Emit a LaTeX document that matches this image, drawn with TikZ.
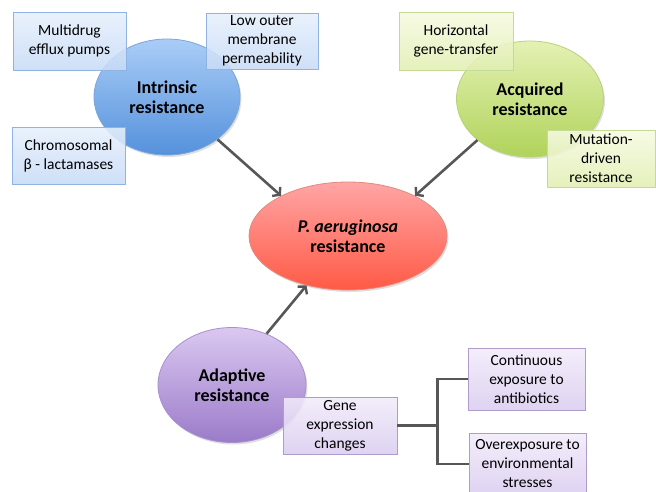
\documentclass[tikz,border=0pt]{standalone}
\usepackage{fontspec}
\setmainfont{Carlito}
\usetikzlibrary{arrows.meta,shapes.geometric,shadows}

\definecolor{blueTop}{HTML}{A9CDF7}
\definecolor{blueBot}{HTML}{5591DC}
\definecolor{blueLine}{HTML}{7AA6DA}
\definecolor{blueBoxTop}{HTML}{E6F0FC}
\definecolor{blueBoxBot}{HTML}{C8DBF6}
\definecolor{blueBoxLine}{HTML}{8FB3E3}
\definecolor{greenTop}{HTML}{E4F1B4}
\definecolor{greenBot}{HTML}{B0D35A}
\definecolor{greenLine}{HTML}{B8D27A}
\definecolor{greenBoxTop}{HTML}{F6FAE2}
\definecolor{greenBoxBot}{HTML}{E1EEB2}
\definecolor{greenBoxLine}{HTML}{C5DA94}
\definecolor{redTop}{HTML}{FFA5A5}
\definecolor{redBot}{HTML}{FF5A45}
\definecolor{redLine}{HTML}{E08A80}
\definecolor{purpleTop}{HTML}{DAC8F1}
\definecolor{purpleBot}{HTML}{9B7BC9}
\definecolor{purpleLine}{HTML}{A890CC}
\definecolor{purpleBoxTop}{HTML}{F2EBFA}
\definecolor{purpleBoxBot}{HTML}{DACDEF}
\definecolor{purpleBoxLine}{HTML}{B09CCC}
\definecolor{arrowGray}{HTML}{575757}

\begin{document}
\begin{tikzpicture}[
    x=1pt, y=-1pt,
    hub/.style={ellipse, draw, line width=0.8pt, align=center,
        font=\fontsize{18}{20}\selectfont\bfseries,
        drop shadow={opacity=0.25, shadow xshift=1.5pt, shadow yshift=-2pt}},
    factor/.style={rectangle, draw, line width=0.8pt, align=center,
        font=\fontsize{15.5}{19}\selectfont, inner sep=1pt,
        fill opacity=0.88, text opacity=1},
    arrow/.style={-{Straight Barb[length=5pt, width=12pt, line width=2.4pt]},
        line width=2.6pt, arrowGray},
    link/.style={line width=2.2pt, arrowGray}
]
\useasboundingbox (0,0) rectangle (656,491);

% Centre
\node[hub, top color=redTop, bottom color=redBot, draw=redLine,
    minimum width=198pt, minimum height=108pt] (pa) at (348,236)
    {\textit{P. aeruginosa}\\resistance};

% Intrinsic
\node[hub, top color=blueTop, bottom color=blueBot, draw=blueLine,
    minimum width=146pt, minimum height=116pt] (intr) at (167,97)
    {Intrinsic\\resistance};
\node[factor, top color=blueBoxTop, bottom color=blueBoxBot, draw=blueBoxLine,
    minimum width=113pt, minimum height=58pt] (mdr) at (69.5,41)
    {Multidrug\\efflux pumps};
\node[factor, top color=blueBoxTop, bottom color=blueBoxBot, draw=blueBoxLine,
    minimum width=112pt, minimum height=56pt] (lom) at (262,41)
    {Low outer\\membrane\\permeability};
\node[factor, top color=blueBoxTop, bottom color=blueBoxBot, draw=blueBoxLine,
    minimum width=113pt, minimum height=57pt] (chr) at (68.5,155.5)
    {Chromosomal\\β - lactamases};

% Acquired
\node[hub, top color=greenTop, bottom color=greenBot, draw=greenLine,
    minimum width=147pt, minimum height=116pt] (acq) at (530,99)
    {Acquired\\resistance};
\node[factor, top color=greenBoxTop, bottom color=greenBoxBot, draw=greenBoxLine,
    minimum width=114pt, minimum height=58pt] (hgt) at (456,41)
    {Horizontal\\gene-transfer};
\node[factor, top color=greenBoxTop, bottom color=greenBoxBot, draw=greenBoxLine,
    minimum width=108pt, minimum height=57pt] (mut) at (601,158.5)
    {Mutation-\\driven\\resistance};

% Adaptive
\node[hub, top color=purpleTop, bottom color=purpleBot, draw=purpleLine,
    minimum width=148pt, minimum height=115pt] (adap) at (232,385)
    {Adaptive\\resistance};
\node[factor, top color=purpleBoxTop, bottom color=purpleBoxBot, draw=purpleBoxLine,
    minimum width=114pt, minimum height=57pt] (gen) at (340,425.5)
    {Gene\\expression\\changes};
\node[factor, top color=purpleBoxTop, bottom color=purpleBoxBot, draw=purpleBoxLine,
    minimum width=117pt, minimum height=62pt] (cont) at (526.5,379)
    {Continuous\\exposure to\\antibiotics};
\node[factor, top color=purpleBoxTop, bottom color=purpleBoxBot, draw=purpleBoxLine,
    minimum width=117pt, minimum height=62pt] (over) at (527.5,464)
    {Overexposure to\\environmental\\stresses};

% Arrows into the centre
\draw[arrow] (intr.-40) -- (pa.149);
\draw[arrow] (acq.-142) -- (pa.31);
\draw[arrow] (adap.56) -- (pa.230);

% Gene expression branches
\draw[link] (gen.east) -- ++(40,0) coordinate (br);
\draw[link] (br) |- (cont.west);
\draw[link] (br) |- (over.west);

\end{tikzpicture}
\end{document}
